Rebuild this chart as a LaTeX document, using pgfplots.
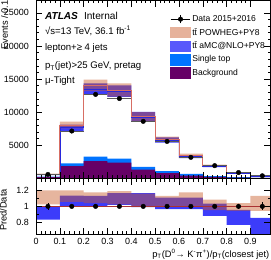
\documentclass[border=0pt]{standalone}
\usepackage{fontspec}
\setmainfont{Liberation Sans}
\usepackage{pgfplots}
\usepackage{pgfplotstable}
\usepgfplotslibrary{fillbetween}
\pgfplotsset{compat=1.18}

\definecolor{bkgc}{RGB}{102,0,102}
\definecolor{stc}{RGB}{0,115,255}
\definecolor{powc}{RGB}{200,90,40}
\definecolor{powleg}{RGB}{230,178,155}
\definecolor{powline}{RGB}{215,110,100}
\definecolor{amcc}{RGB}{60,60,250}
\definecolor{amcline}{RGB}{40,40,220}
\definecolor{oneline}{RGB}{170,50,50}

\pgfplotstableread{
x    bkg   st   pc     plo    phi    ac     alo    ahi
0.0  200   60   667    614    720    551    500    602
0.1  1850  420  8077   7561   8592   7654   7181   8127
0.2  2630  670  14054  13198  14911  13515  12690  14340
0.3  2370  620  13356  12354  14357  13181  12306  14056
0.4  1330  420  9310   8620   10000  9288   8534   10042
0.5  810   310  5953   5590   6317   5805   5405   6205
0.6  440   260  3458   3180   3737   3302   3075   3530
0.7  230   110  1969   1841   2096   1846   1698   1994
0.8  130   60   884    841    927    768    685    850
0.9  70    30   415    378    452    288    232    343
1.0  70    30   415    378    452    288    232    343
}\hist

\pgfplotstableread{
xc    d      e
0.05  600    24.5
0.15  7160   85
0.25  12690  113
0.35  12065  110
0.45  8620   93
0.55  5590   75
0.65  3180   56
0.75  1930   44
0.85  890    30
0.95  400    20
}\datatab

\pgfplotstableread{
x    plo    phi    alo    ahi
0.0  1.024  1.200  0.834  1.003
0.1  1.056  1.200  1.003  1.135
0.2  1.040  1.175  1.000  1.130
0.3  1.024  1.190  1.020  1.165
0.4  1.000  1.160  0.990  1.165
0.5  1.000  1.130  0.967  1.110
0.6  1.000  1.175  0.967  1.110
0.7  0.954  1.086  0.880  1.033
0.8  0.945  1.042  0.770  0.955
0.9  0.945  1.130  0.580  0.857
1.0  0.945  1.130  0.580  0.857
}\ratiotab

\pgfplotstableread{
xc    r   e
0.05  1   0.040
0.15  1   0.012
0.25  1   0.009
0.35  1   0.009
0.45  1   0.011
0.55  1   0.013
0.65  1   0.018
0.75  1   0.023
0.85  1   0.034
0.95  1   0.050
}\ratiodata

\newcommand{\tbar}{t\={t}}

\begin{document}
\begin{tikzpicture}
\pgfplotsset{
  every axis/.append style={
    scale only axis, width=226.6bp,
    xmin=0, xmax=0.985,
    tick align=inside,
    major tick length=6bp, minor tick length=3bp,
    axis line style={line width=0.6pt},
    every tick/.style={black, line width=0.5pt},
    ticklabel style={font=\fontsize{8.7}{10}\selectfont},
    /pgf/number format/assume math mode=true,
    /pgf/number format/1000 sep={},
    xtick={0,0.1,0.2,0.3,0.4,0.5,0.6,0.7,0.8,0.9},
    minor x tick num=4,
    yticklabel style={xshift=-3.5bp},
    axis on top,
  }
}
\begin{axis}[
  name=main, at={(0,0)}, anchor=south west,
  height=172bp,
  ymin=0, ymax=26900,
  ytick={5000,10000,15000,20000,25000},
  minor y tick num=4,
  scaled y ticks=false,
  xticklabels={},
  ylabel={Events / 0.1},
  ylabel style={at={(axis description cs:-0.1346,1)}, anchor=east, inner sep=0pt, font=\fontsize{9}{10}\selectfont},
  legend cell align=left,
  legend style={at={(axis description cs:0.5715,0.925)}, anchor=north west, draw=none, fill=none,
    font=\fontsize{8.3}{10}\selectfont, row sep=2.2bp, inner sep=0pt,
    nodes={inner sep=1.5bp}},
]
% stacked backgrounds
\addplot[const plot mark left, fill=stc, draw=none, forget plot] table[x=x, y expr=\thisrow{bkg}+\thisrow{st}]{\hist} \closedcycle;
\addplot[const plot mark left, fill=bkgc, draw=none, forget plot] table[x=x, y=bkg]{\hist} \closedcycle;
% aMC band
\addplot[name path=ahi, draw=none, const plot mark left, forget plot] table[x=x,y=ahi]{\hist};
\addplot[name path=alo, draw=none, const plot mark left, forget plot] table[x=x,y=alo]{\hist};
\addplot[fill=amcc, draw=none, forget plot] fill between[of=ahi and alo];
% POWHEG band
\addplot[name path=phi, draw=none, const plot mark left, forget plot] table[x=x,y=phi]{\hist};
\addplot[name path=plo, draw=none, const plot mark left, forget plot] table[x=x,y=plo]{\hist};
\addplot[fill=powc, fill opacity=0.45, draw=none, forget plot] fill between[of=phi and plo];
% central lines
\addplot[const plot mark left, draw=amcline, line width=0.6pt, forget plot] table[x=x,y=ac]{\hist};
\addplot[const plot mark left, draw=powline, line width=0.7pt, forget plot] table[x=x,y=pc]{\hist};
% data
\addplot[draw=none, mark=none, forget plot, error bars/.cd, x dir=both, x fixed=0.05,
  error mark=none, error bar style={gray!70!black, line width=0.7pt}] table[x=xc,y=d]{\datatab};
\addplot[only marks, mark=*, mark size=2.2bp, black, forget plot, error bars/.cd, y dir=both, y explicit,
  error mark=none, error bar style={black, line width=0.7pt}] table[x=xc,y=d,y error=e]{\datatab};

% legend
\addlegendimage{legend image code/.code={
  \draw[black, line width=0.7pt] (0bp,0bp) -- (19bp,0bp);
  \draw[black, line width=0.7pt] (9.5bp,-4bp) -- (9.5bp,4bp);
  \fill[black] (9.5bp,0bp) circle (2.2bp);}}
\addlegendentry{Data 2015+2016}
\addlegendimage{legend image code/.code={\fill[powleg] (0bp,-5bp) rectangle (19bp,5bp);}}
\addlegendentry{\tbar{} POWHEG+PY8}
\addlegendimage{legend image code/.code={\fill[amcc!85!white] (0bp,-5bp) rectangle (19bp,5bp);}}
\addlegendentry{\tbar{} aMC@NLO+PY8}
\addlegendimage{legend image code/.code={\fill[stc] (0bp,-5bp) rectangle (19bp,5bp);}}
\addlegendentry{Single top}
\addlegendimage{legend image code/.code={\fill[bkgc] (0bp,-5bp) rectangle (19bp,5bp);}}
\addlegendentry{Background}

% labels
\node[anchor=west, inner sep=0pt, font=\fontsize{9.8}{11}\selectfont] at (axis description cs:0.0375,0.914) {\textbf{\textit{ATLAS}}\hspace{0.6em}Internal};
\node[anchor=west, inner sep=0pt, font=\fontsize{9.3}{11}\selectfont] at (axis description cs:0.0375,0.827) {√s=13 TeV, 36.1 fb\textsuperscript{-1}};
\node[anchor=west, inner sep=0pt, font=\fontsize{9.3}{11}\selectfont] at (axis description cs:0.0375,0.730) {lepton+≥ 4 jets};
\node[anchor=west, inner sep=0pt, font=\fontsize{9.3}{11}\selectfont] at (axis description cs:0.0375,0.630) {p\textsubscript{T}(jet)>25 GeV, pretag};
\node[anchor=west, inner sep=0pt, font=\fontsize{9.3}{11}\selectfont] at (axis description cs:0.0375,0.549) {μ-Tight};
\end{axis}

\begin{axis}[
  name=ratio, at={(main.south west)}, anchor=north west,
  height=54bp,
  ymin=0.65, ymax=1.35,
  ytick={0.8,1,1.2},
  minor y tick num=1,
  xlabel={p\textsubscript{T}(D\textsuperscript{0}→ K\textsuperscript{-}π\textsuperscript{+})/p\textsubscript{T}(closest jet)},
  xlabel style={at={(axis description cs:0.995,0)}, anchor=east, yshift=-19.5bp, inner sep=0pt, font=\fontsize{9}{10}\selectfont},
  ylabel={Pred/Data},
  ylabel style={at={(axis description cs:-0.139,0.435)}, anchor=center, inner sep=0pt, font=\fontsize{9}{10}\selectfont},
]
\addplot[name path=rahi, draw=none, const plot mark left] table[x=x,y=ahi]{\ratiotab};
\addplot[name path=ralo, draw=none, const plot mark left] table[x=x,y=alo]{\ratiotab};
\addplot[fill=amcc, draw=none] fill between[of=rahi and ralo];
\addplot[name path=rphi, draw=none, const plot mark left] table[x=x,y=phi]{\ratiotab};
\addplot[name path=rplo, draw=none, const plot mark left] table[x=x,y=plo]{\ratiotab};
\addplot[fill=powc, fill opacity=0.45, draw=none] fill between[of=rphi and rplo];
\addplot[oneline, line width=0.7pt, mark=none] coordinates {(0,1) (1,1)};
\addplot[only marks, mark=*, mark size=2.2bp, black, error bars/.cd, y dir=both, y explicit,
  error mark=none, error bar style={black, line width=0.7pt}] table[x=xc,y=r,y error=e]{\ratiodata};
\end{axis}
\end{tikzpicture}
\end{document}
